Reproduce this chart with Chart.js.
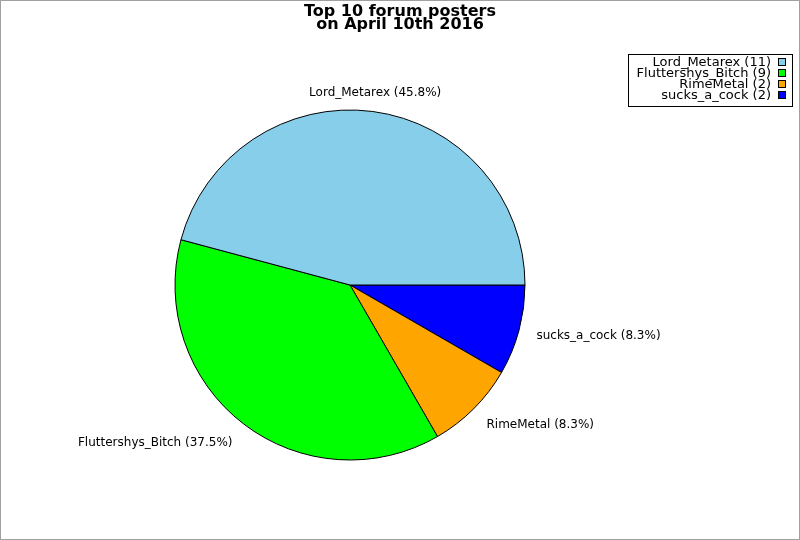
<!DOCTYPE html>
<html>
<head>
<meta charset="utf-8">
<script src="https://cdn.jsdelivr.net/npm/chart.js@4.4.0/dist/chart.umd.min.js"></script>
<style>
html,body{margin:0;padding:0;background:#fff;}
#wrap{width:800px;height:540px;position:relative;}
</style>
</head>
<body>
<div id="wrap"><canvas id="c" width="800" height="540"></canvas></div>
<script>
const titleLines = ['Top 10 forum posters', 'on April 10th 2016'];
const categories = ['Lord_Metarex', 'Fluttershys_Bitch', 'RimeMetal', 'sucks_a_cock'];
const posts = [11, 9, 2, 2];
const colors = ['#87CEEB', '#00FF00', '#FFA500', '#0000FF'];

// Chart.js draws clockwise; the reference runs counter-clockwise from 3 o'clock
const drawOrder = categories.map((_, i) => categories.length - 1 - i);
const total = posts.reduce((a, b) => a + b, 0);

const decor = {
  id: 'decor',
  beforeDraw(chart) {
    const ctx = chart.ctx;
    ctx.save();
    ctx.fillStyle = '#ffffff';
    ctx.fillRect(0, 0, chart.width, chart.height);
    ctx.restore();
  },
  afterDraw(chart) {
    const ctx = chart.ctx;
    ctx.save();
    // outer frame
    ctx.strokeStyle = '#a0a0a0';
    ctx.lineWidth = 1;
    ctx.strokeRect(0.5, 0.5, chart.width - 1, chart.height - 1);
    // title
    ctx.fillStyle = '#000';
    ctx.font = 'bold 16px "DejaVu Sans"';
    ctx.textAlign = 'center';
    ctx.textBaseline = 'alphabetic';
    titleLines.forEach((t, i) => ctx.fillText(t, 400, 16 + i * 13));
    // slice labels
    const meta = chart.getDatasetMeta(0);
    ctx.font = '12px "DejaVu Sans"';
    ctx.textBaseline = 'middle';
    meta.data.forEach((arc, j) => {
      const idx = drawOrder[j];
      const mid = (arc.startAngle + arc.endAngle) / 2;
      const c = Math.cos(mid), s = Math.sin(mid);
      const px = arc.x + c * (arc.outerRadius + 18);
      const py = arc.y + s * (arc.outerRadius + 19) + (s > 0 ? 6 * s * s : 0);
      ctx.textAlign = c > 0.2 ? 'left' : (c < -0.2 ? 'right' : 'center');
      const pct = (posts[idx] / total * 100).toFixed(1);
      ctx.fillText(categories[idx] + ' (' + pct + '%)', px, py);
    });
    // legend
    ctx.strokeStyle = '#000';
    ctx.strokeRect(628.5, 54.5, 164, 52);
    ctx.font = '13px "DejaVu Sans"';
    ctx.textAlign = 'right';
    categories.forEach((name, i) => {
      const cy = 62.5 + i * 11;
      ctx.fillStyle = '#000';
      ctx.fillText(name + ' (' + posts[i] + ')', 771, cy + 0.5);
      ctx.fillStyle = colors[i];
      ctx.fillRect(778.5, cy - 4, 7, 7);
      ctx.strokeRect(778.5, cy - 4, 7, 7);
    });
    ctx.restore();
  }
};

new Chart(document.getElementById('c'), {
  type: 'pie',
  data: {
    labels: drawOrder.map(i => categories[i]),
    datasets: [{
      data: drawOrder.map(i => posts[i]),
      backgroundColor: drawOrder.map(i => colors[i]),
      borderColor: '#000000',
      borderWidth: 1,
      hoverOffset: 0
    }]
  },
  options: {
    responsive: false,
    animation: false,
    devicePixelRatio: 1,
    rotation: 90,
    radius: 175,
    layout: { padding: { left: 0, right: 100, top: 30, bottom: 0 } },
    plugins: {
      legend: { display: false },
      title: { display: false },
      tooltip: { enabled: false }
    },
    events: []
  },
  plugins: [decor]
});
</script>
</body>
</html>
